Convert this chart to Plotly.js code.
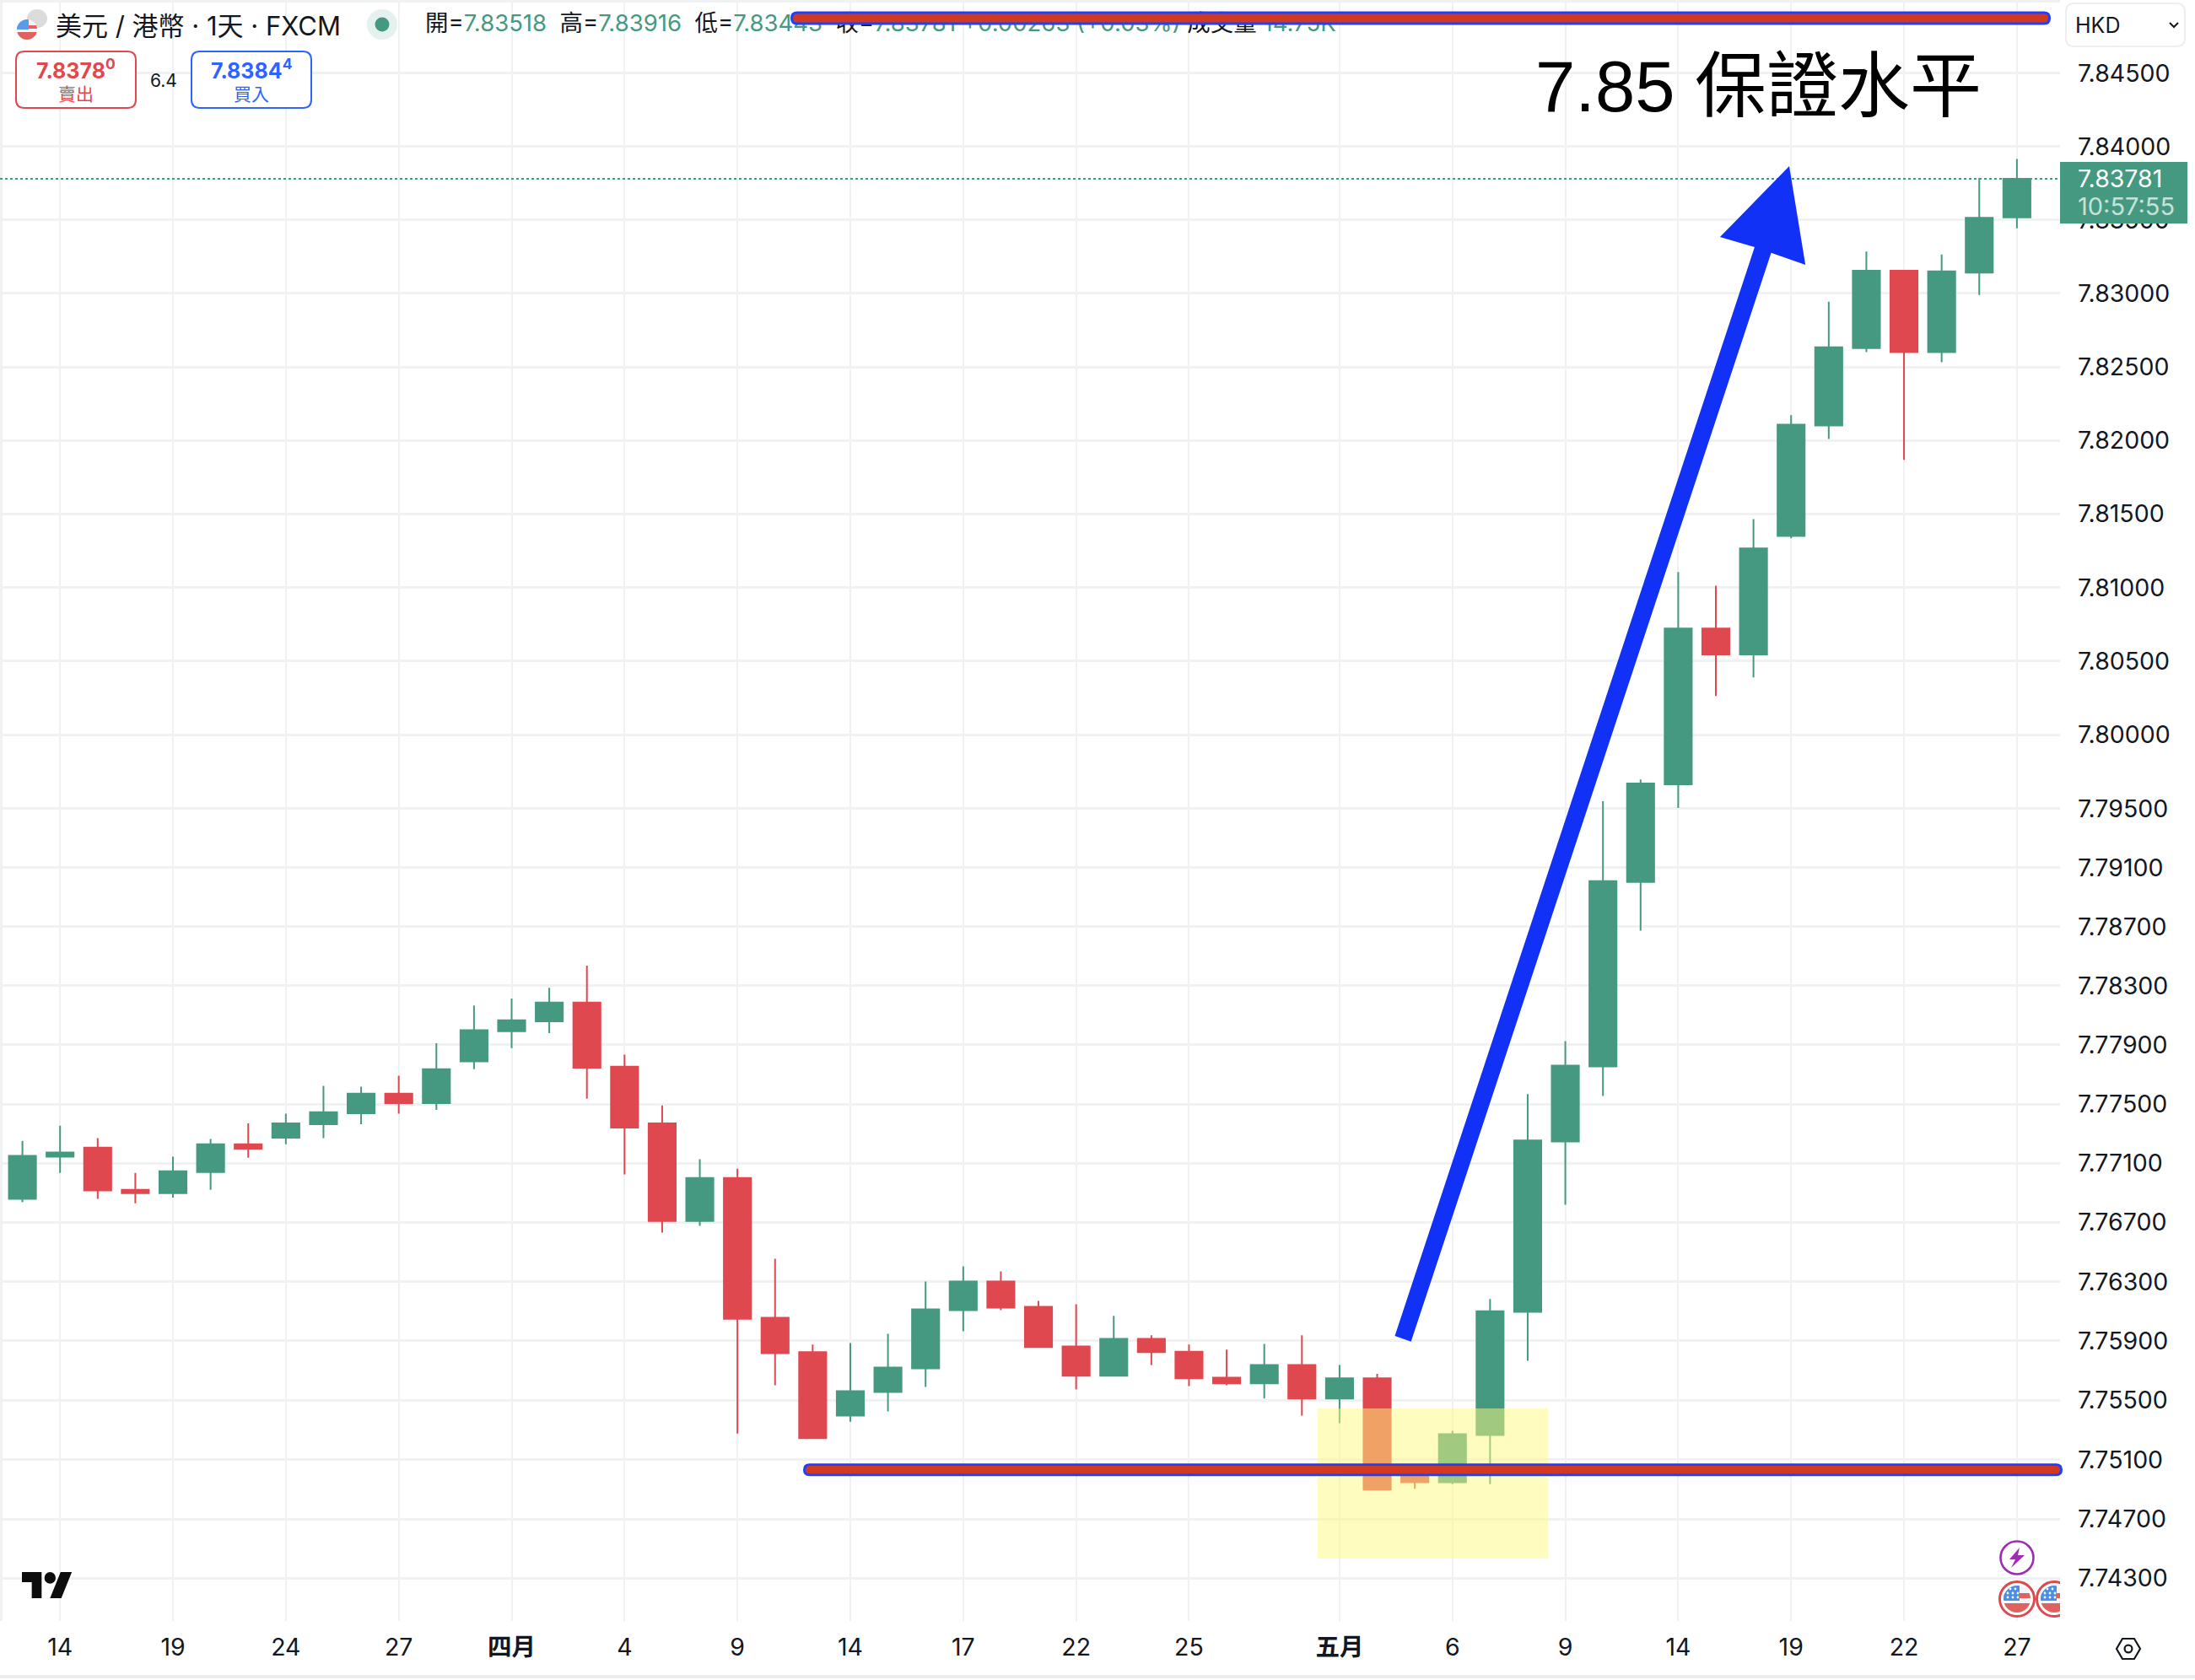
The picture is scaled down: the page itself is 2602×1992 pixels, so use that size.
<!DOCTYPE html>
<html>
<head>
<meta charset="utf-8">
<script src="https://cdn.plot.ly/plotly-3.0.1.min.js"></script>
<style>html,body{margin:0;padding:0;background:#fff}#chart{width:2602px;height:1992px}</style>
</head>
<body>
<div id="chart"></div>
<script>
// ---------- data ----------
const barIndex = [0,1,2,3,4,5,6,7,8,9,10,11,12,13,14,15,16,17,18,19,20,21,22,23,24,25,26,27,28,29,30,31,32,33,34,35,36,37,38,39,40,41,42,43,44,45,46,47,48,49,50,51,52,53];
const opens = [7.76859,7.77144,7.77205,7.76920,7.76898,7.77040,7.77228,7.77273,7.77364,7.77438,7.77571,7.77506,7.77788,7.77992,7.78060,7.78187,7.77753,7.77370,7.76710,7.77001,7.76056,7.75824,7.75397,7.75556,7.75715,7.76107,7.76301,7.76131,7.75863,7.75665,7.75914,7.75828,7.75652,7.75614,7.75738,7.75511,7.75648,7.75040,7.74948,7.75266,7.76097,7.77247,7.77755,7.79003,7.79664,7.80722,7.80545,7.81350,7.82102,7.82628,7.83155,7.82600,7.83142,7.83518];
const highs = [7.77251,7.77354,7.77270,7.77034,7.77144,7.77264,7.77370,7.77435,7.77623,7.77617,7.77691,7.77911,7.78167,7.78213,7.78287,7.78436,7.77834,7.77490,7.77127,7.77063,7.76455,7.75876,7.75886,7.75949,7.76301,7.76404,7.76369,7.76170,7.76148,7.76069,7.75938,7.75876,7.75841,7.75880,7.75938,7.75738,7.75678,7.75060,7.75294,7.76183,7.77568,7.77925,7.79550,7.79698,7.81105,7.81013,7.81465,7.82171,7.82943,7.83285,7.83155,7.83265,7.83786,7.83916];
const lows = [7.76836,7.77034,7.76859,7.76829,7.76868,7.76920,7.77137,7.77228,7.77270,7.77364,7.77435,7.77461,7.77736,7.77879,7.77979,7.77536,7.77024,7.76632,7.76677,7.75275,7.75601,7.75244,7.75356,7.75425,7.75590,7.75966,7.76107,7.75858,7.75573,7.75665,7.75738,7.75596,7.75601,7.75511,7.75397,7.75345,7.74897,7.74903,7.74935,7.74935,7.75766,7.76820,7.77555,7.78673,7.79504,7.80264,7.80389,7.81335,7.82010,7.82600,7.81867,7.82531,7.82989,7.83443];
const closes = [7.77150,7.77173,7.76917,7.76898,7.77046,7.77228,7.77199,7.77370,7.77445,7.77571,7.77506,7.77736,7.77999,7.78067,7.78187,7.77746,7.77341,7.76710,7.77001,7.76049,7.75818,7.75244,7.75562,7.75721,7.76114,7.76301,7.76125,7.75858,7.75665,7.75914,7.75824,7.75648,7.75614,7.75738,7.75511,7.75648,7.74897,7.74948,7.75272,7.76101,7.77254,7.77760,7.79009,7.79670,7.80722,7.80545,7.81266,7.82107,7.82634,7.83155,7.82600,7.83150,7.83515,7.83781];
const xTickIndex = [1,4,7,10,13,16,19,22,25,28,31,35,38,41,44,47,50,53];
const xTickLabels = ['14','19','24','27','<b>四月</b>','4','9','14','17','22','25','<b>五月</b>','6','9','14','19','22','27'];
const yTickValues = [7.845,7.840,7.835,7.830,7.825,7.820,7.815,7.810,7.805,7.800,7.795,7.791,7.787,7.783,7.779,7.775,7.771,7.767,7.763,7.759,7.755,7.751,7.747,7.743];
const yTickLabels = ['7.84500','7.84000','7.83500','7.83000','7.82500','7.82000','7.81500','7.81000','7.80500','7.80000','7.79500','7.79100','7.78700','7.78300','7.77900','7.77500','7.77100','7.76700','7.76300','7.75900','7.75500','7.75100','7.74700','7.74300'];
const lastPrice = 7.83781;
const zoneX = [34.42, 40.54];
const zoneY = [7.74433, 7.75445];
const arrowX = [36.47,36.90,46.47,47.38,46.95,45.11,46.03];
const arrowY = [7.75934,7.75895,7.83276,7.83195,7.83867,7.83384,7.83315];
const upperLevel = 7.84876;
const lowerLevel = 7.75031;
const headerTitle = '美元 / 港幣 · 1天 · FXCM';
const ohlcLegend = '開=<span style="color:#459981">7.83518</span>&nbsp; 高=<span style="color:#459981">7.83916</span>&nbsp; 低=<span style="color:#459981">7.83443</span>&nbsp; 收=<span style="color:#459981">7.83781 +0.00263 (+0.03%)</span> 成交量 <span style="color:#459981">14.75K</span>';

// ---------- layout geometry ----------
const PW = 2442, PH = 1922;
const yRange = [0.8887483, 0.8948699], xRange = [-0.596, 54.146];
const GREEN = '#459981', RED = '#E0484F', BLUE = '#2F62FF', INK = '#131722';
const FONT = "Inter, 'Noto Sans CJK TC', sans-serif";
const fx = p => p / PW;
const fy = p => 1 - p / PH;
const valPx = v => (yRange[1] - Math.log10(v)) / (yRange[1] - yRange[0]) * PH;
const idxOfPx = p => xRange[0] + p / PW * (xRange[1] - xRange[0]);

function roundRect(x0, y0, x1, y1, r) {
  const X = fx, Y = fy;
  return `M${X(x0+r)},${Y(y0)} L${X(x1-r)},${Y(y0)} Q${X(x1)},${Y(y0)} ${X(x1)},${Y(y0+r)} L${X(x1)},${Y(y1-r)} Q${X(x1)},${Y(y1)} ${X(x1-r)},${Y(y1)} L${X(x0+r)},${Y(y1)} Q${X(x0)},${Y(y1)} ${X(x0)},${Y(y1-r)} L${X(x0)},${Y(y0+r)} Q${X(x0)},${Y(y0)} ${X(x0+r)},${Y(y0)} Z`;
}
const paperShape = o => Object.assign({xref:'paper', yref:'paper', layer:'above'}, o);
const rr = (x0,y0,x1,y1,r,fill,stroke,w) => paperShape({type:'path', path:roundRect(x0,y0,x1,y1,r), fillcolor:fill, line:{color:stroke||fill, width:w||0}});
const rect = (x0,y0,x1,y1,fill) => paperShape({type:'rect', x0:fx(x0), x1:fx(x1), y0:fy(y1), y1:fy(y0), fillcolor:fill, line:{width:0}});
const circ = (cx,cy,r,fill,stroke,w) => paperShape({type:'circle', x0:fx(cx-r), x1:fx(cx+r), y0:fy(cy+r), y1:fy(cy-r), fillcolor:fill, line:{color:stroke||fill, width:w||0}});
function pill(x0, x1, v, hb, hr) {
  const c = valPx(v);
  return [rr(x0, c-hb, x1, c+hb, hb, '#1F3FFB'), rr(x0+3, c-hr, x1-3, c+hr, hr, '#D13A20')];
}

const shapes = [
  // frame
  rect(0,0,PW,3,'#F0F1F3'), rect(0,0,3,PH,'#F0F1F3'), rect(0,1986,2602,1990,'#ECECEE'),
  // last price dotted line
  {type:'line', xref:'paper', yref:'y', x0:0, x1:1, y0:lastPrice, y1:lastPrice, layer:'above', line:{color:GREEN, width:2, dash:'dot'}},
  // yellow zone
  {type:'rect', xref:'x', yref:'y', x0:zoneX[0], x1:zoneX[1], y0:zoneY[0], y1:zoneY[1], layer:'above', fillcolor:'rgba(253,250,125,0.5)', line:{width:0}},
  // arrow
  {type:'path', xref:'x', yref:'y', layer:'above', fillcolor:'#1231F7', line:{width:0},
   path:'M' + arrowX.map((x,i)=>x+','+arrowY[i]).join(' L') + ' Z'},
  // guarantee levels
  ...pill(937, 2431, upperLevel, 8, 5),
  ...pill(952, 2445, lowerLevel, 7.5, 4.8),
  // price label on axis
  rect(2442,192,2593,265,GREEN),
  // HKD button
  rr(2449,4,2590,55,10,'#FFFFFF','#EEEEF0',2),
  paperShape({type:'path', path:`M${fx(2572)},${fy(27)} L${fx(2577)},${fy(32)} L${fx(2582)},${fy(27)}`, line:{color:INK,width:2}}),
  // sell and buy boxes
  rr(19,61,161,128,10,'#FFFFFF',RED,2),
  rr(227,61,369,128,10,'#FFFFFF',BLUE,2),
  // status dot
  circ(453,29,18,'#E4F1EE'), circ(453,29,8.5,GREEN),
];

const flagSvg = (vb) => 'data:image/svg+xml;utf8,' + encodeURIComponent(
 `<svg xmlns="http://www.w3.org/2000/svg" viewBox="${vb}"><defs><clipPath id="c"><circle cx="22" cy="22" r="16"/></clipPath></defs>
  <circle cx="22" cy="22" r="20.5" fill="#fff" stroke="#E0484F" stroke-width="3"/>
  <g clip-path="url(#c)"><rect x="6" y="6" width="32" height="32" fill="#F4F4FA"/><rect x="6" y="15" width="32" height="6" fill="#E0625F"/><rect x="6" y="27" width="32" height="11" fill="#E0625F"/>
  <rect x="6" y="6" width="19" height="18" fill="#4A8FE7"/>
  <g fill="#fff"><circle cx="14" cy="10" r="1.4"/><circle cx="20" cy="10" r="1.4"/><circle cx="11" cy="15" r="1.4"/><circle cx="17" cy="15" r="1.4"/><circle cx="23" cy="15" r="1.4"/><circle cx="11" cy="20" r="1.4"/><circle cx="17" cy="20" r="1.4"/><circle cx="23" cy="20" r="1.4"/></g></g></svg>`);
const headerFlagSvg = 'data:image/svg+xml;utf8,' + encodeURIComponent(
 `<svg xmlns="http://www.w3.org/2000/svg" viewBox="0 0 24 24"><defs><clipPath id="c"><circle cx="12" cy="12" r="12"/></clipPath></defs>
  <g clip-path="url(#c)"><rect width="24" height="24" fill="#F4F4FA"/><rect y="7" width="24" height="4" fill="#E0625F"/><rect y="15" width="24" height="9" fill="#E0625F"/><rect width="14" height="12" fill="#5C9BE8"/></g></svg>`);
const boltSvg = 'data:image/svg+xml;utf8,' + encodeURIComponent(
 `<svg xmlns="http://www.w3.org/2000/svg" viewBox="0 0 42 42"><circle cx="21" cy="21" r="19.5" fill="#fff" stroke="#9C2FB0" stroke-width="2.6"/><path d="M24 9 L12 23 H19 L14 33 L30 18 H22 Z" fill="#9C2FB0"/></svg>`);
const tvSvg = 'data:image/svg+xml;utf8,' + encodeURIComponent(
 `<svg xmlns="http://www.w3.org/2000/svg" viewBox="0 4 36 18"><path fill="#0D0D0D" d="M14 22H7V11H0V4h14v18ZM28 22h-8l7.5-18h8L28 22Z"/><circle fill="#0D0D0D" cx="20" cy="8" r="4"/></svg>`);
const gearSvg = 'data:image/svg+xml;utf8,' + encodeURIComponent(
 `<svg xmlns="http://www.w3.org/2000/svg" viewBox="0 0 32 28"><path d="M9 2 H23 L30 14 L23 26 H9 L2 14 Z" fill="none" stroke="#131722" stroke-width="2.2"/><circle cx="16" cy="14" r="4.4" fill="none" stroke="#131722" stroke-width="2.2"/></svg>`);
const img = (src,x,y,w,h) => ({source:src, xref:'paper', yref:'paper', x:fx(x), y:fy(y), sizex:w/PW, sizey:h/PH, xanchor:'left', yanchor:'top', sizing:'stretch', layer:'above'});
const images = [
  img('data:image/svg+xml;utf8,' + encodeURIComponent('<svg xmlns="http://www.w3.org/2000/svg" viewBox="0 0 24 24"><circle cx="12" cy="12" r="12" fill="#DCDCDC"/></svg>'),32,11,24,22),
  img(headerFlagSvg,20,23,24,24),
  img(boltSvg,2370,1826,42,42),
  img(flagSvg('0 0 44 44'),2369,1874,44,44),
  img(flagSvg('0 0 29 44'),2413,1874,29,44),
  img(tvSvg,26,1864,60,31),
  img(gearSvg,2507,1941,32,28),
];

const note = (text,x,y,size,color,anchor,family) => ({text, xref:'paper', yref:'paper', x:fx(x), y:fy(y), xanchor:anchor||'left', yanchor:'middle', showarrow:false, align:anchor==='center'?'center':'left', font:{size, color, family:family||FONT}});
const annotations = [
  note(headerTitle,64,30,31,INK),
  note('<b>7.8378<sup>0</sup></b>',90,82,25,RED,'center'),
  note('賣出',90,111,21,RED,'center'),
  note('6.4',194,95,21,INK,'center'),
  note('<b>7.8384<sup>4</sup></b>',298,82,25,BLUE,'center'),
  note('買入',298,111,21,BLUE,'center'),
  note('HKD',2458,30,25,INK),
  note('7.83781',2461,212,28.5,'#FFFFFF'),
  note('10:57:55',2461,245,29,'#C5E2DA'),
  note('7.85 保證水平',1818,103,85,'#000000','left',"'Liberation Sans','Noto Sans CJK TC',sans-serif"),
];

const traces = [
  {type:'candlestick', x:barIndex, open:opens, high:highs, low:lows, close:closes, whiskerwidth:0,
   increasing:{line:{color:GREEN,width:2}, fillcolor:GREEN},
   decreasing:{line:{color:RED,width:2}, fillcolor:RED}, hoverinfo:'skip', showlegend:false},
  {type:'scatter', mode:'text', x:[idxOfPx(504)], y:[Math.pow(10, yRange[1] - 30/PH*(yRange[1]-yRange[0]))], text:[ohlcLegend],
   textposition:'middle right', textfont:{size:27.5, color:INK, family:FONT}, cliponaxis:false, hoverinfo:'skip', showlegend:false}
];

const layout = {
  width:2602, height:1992, paper_bgcolor:'#FFFFFF', plot_bgcolor:'#FFFFFF', showlegend:false,
  margin:{l:0, r:2602-PW, t:0, b:1992-PH, pad:0, autoexpand:false},
  boxgap:0.28, boxgroupgap:0,
  font:{family:FONT, color:INK, size:28},
  xaxis:{type:'linear', range:xRange, tickmode:'array', tickvals:xTickIndex, ticktext:xTickLabels, rangeslider:{visible:false},
         showgrid:true, gridcolor:'#F0F1F3', gridwidth:2, zeroline:false, showline:false, ticks:'', ticklabelstandoff:11, tickfont:{size:28.5, color:INK, family:FONT}, automargin:false},
  yaxis:{type:'log', side:'right', range:yRange, tickmode:'array', tickvals:yTickValues, ticktext:yTickLabels,
         showgrid:true, gridcolor:'#F0F1F3', gridwidth:3, zeroline:false, showline:false, ticks:'', ticklabelstandoff:20, tickfont:{size:28.5, color:INK, family:FONT}, automargin:false},
  shapes, images, annotations
};
Plotly.newPlot('chart', traces, layout, {displayModeBar:false, responsive:false});
</script>
</body>
</html>
